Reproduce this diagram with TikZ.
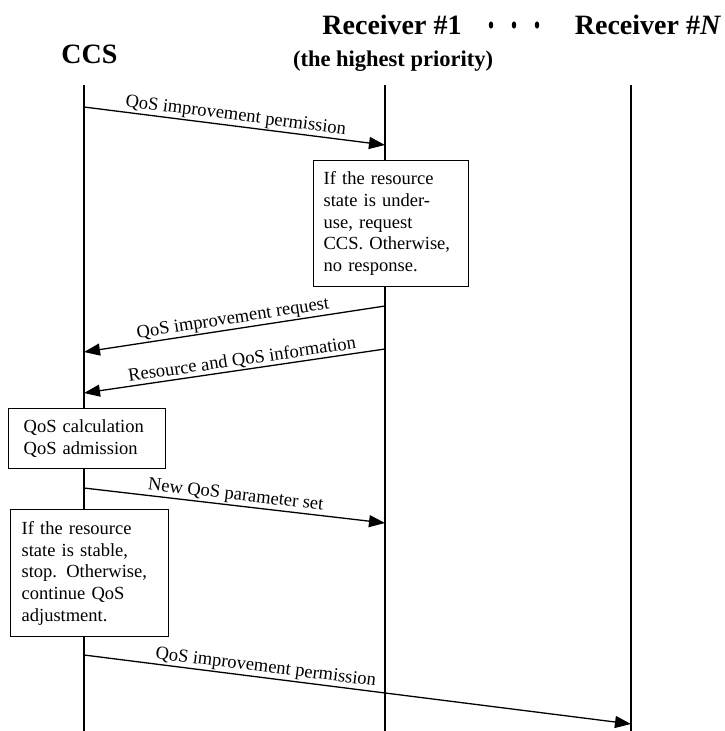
\documentclass[tikz,border=0pt]{standalone}
\usepackage{fontspec}
\setmainfont{Liberation Serif}
\usetikzlibrary{arrows.meta}
\begin{document}
\begin{tikzpicture}[x=1pt,y=-1pt,
  lifeline/.style={line width=1.4pt},
  msg/.style={line width=1.3pt,-{Triangle[length=16pt,width=12pt]}},
  lbl/.style={font=\fontsize{18.5}{20}\selectfont,above,sloped,inner sep=1pt},
  head/.style={font=\fontsize{28}{30}\selectfont\bfseries,anchor=base},
  notebox/.style={draw,line width=1.3pt,fill=white,align=left,anchor=north west,
    inner ysep=4pt,font=\fontsize{18.5}{21.7}\selectfont}]
\useasboundingbox (0,0) rectangle (724,731);

% participants
\node[head] (ccs) at (89.5,63) {CCS};
\node[head] (r1) at (392,34) {Receiver \#1};
\node[font=\fontsize{22.5}{25}\selectfont\bfseries,anchor=base] (r1sub) at (393,66) {(the highest priority)};
\node[head] (rn) at (648,34) {Receiver \#\textit{N}};
\foreach \x/\n in {491/d1,514/d2,537/d3}
  \fill (\x,25) ellipse [x radius=2.2pt,y radius=3.6pt];

% lifelines
\coordinate (ccsT) at (84,85);  \coordinate (ccsB) at (84,731);
\coordinate (r1T) at (385,85);  \coordinate (r1B) at (385,731);
\coordinate (rnT) at (631,85);  \coordinate (rnB) at (631,731);
\draw[lifeline] (ccsT) -- (ccsB);
\draw[lifeline] (r1T) -- (r1B);
\draw[lifeline] (rnT) -- (rnB);

% processing boxes
\node[notebox,text width=135pt,inner xsep=10pt,minimum height=126pt] (b1) at (313,160)
  {If the resource\\state is under-\\use, request\\CCS. Otherwise,\\no response.};
\node[notebox,text width=127pt,inner xsep=15pt,minimum height=60pt] (b2) at (8,408)
  {QoS calculation\\QoS admission};
\node[notebox,text width=136pt,inner xsep=11pt,minimum height=127pt] (b3) at (10,509)
  {If the resource\\state is stable,\\stop. Otherwise,\\continue QoS\\adjustment.};

% message end points on the lifelines
\coordinate (m1a) at (84,107);  \coordinate (m1b) at (385,145);
\coordinate (m2a) at (385,306); \coordinate (m2b) at (84,352);
\coordinate (m3a) at (385,349); \coordinate (m3b) at (84,393);
\coordinate (m4a) at (84,488);  \coordinate (m4b) at (385,523);
\coordinate (m5a) at (84,655);  \coordinate (m5b) at (631,724);

% messages
\draw[msg] (m1a) -- node[lbl] {QoS improvement permission} (m1b);
\draw[msg] (m2a) -- node[lbl] {QoS improvement request} (m2b);
\draw[msg] (m3a) -- node[lbl,pos=0.47] {Resource and QoS information} (m3b);
\draw[msg] (m4a) -- node[lbl] {New QoS parameter set} (m4b);
\draw[msg] (m5a) -- node[lbl,pos=0.33] {QoS improvement permission} (m5b);
\end{tikzpicture}
\end{document}
